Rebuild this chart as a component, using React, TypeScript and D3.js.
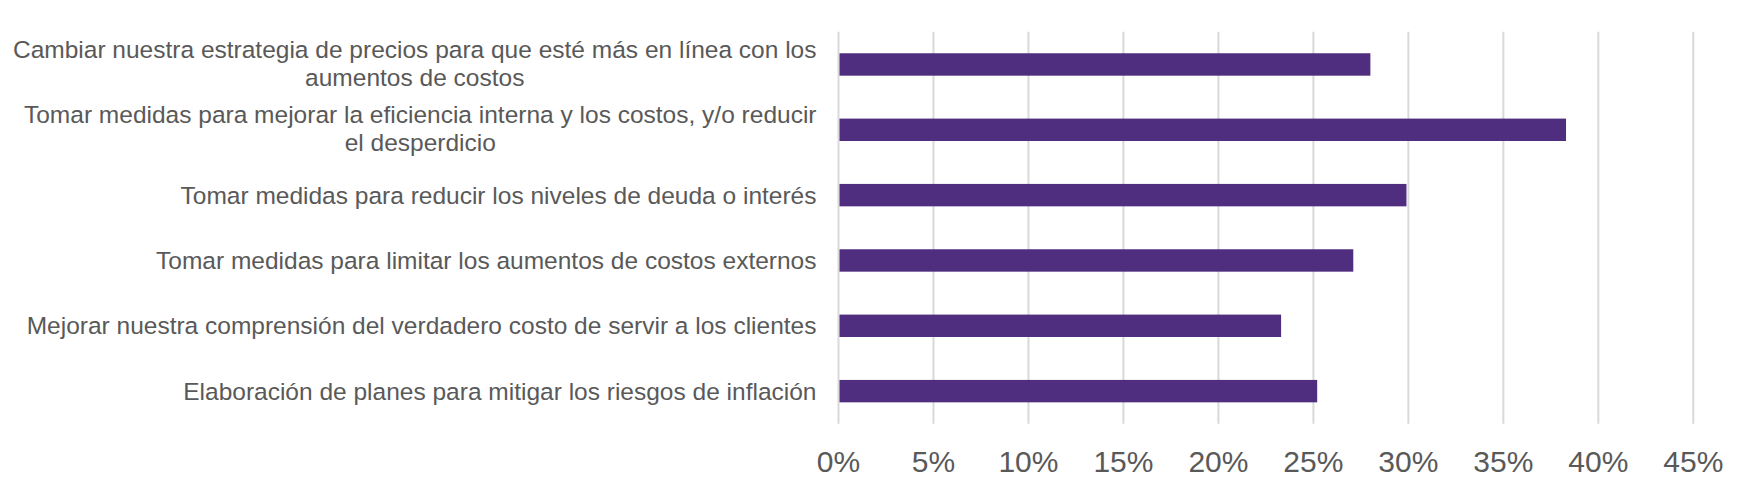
import React, { useEffect, useRef } from 'react';
import * as d3 from 'd3';

// categories, top to bottom (lines split where the original wraps)
const categories: string[][] = [
  ['Cambiar nuestra estrategia de precios para que esté más en línea con los', 'aumentos de costos'],
  ['Tomar medidas para mejorar la eficiencia interna y los costos, y/o reducir', 'el desperdicio'],
  ['Tomar medidas para reducir los niveles de deuda o interés'],
  ['Tomar medidas para limitar los aumentos de costos externos'],
  ['Mejorar nuestra comprensión del verdadero costo de servir a los clientes'],
  ['Elaboración de planes para mitigar los riesgos de inflación'],
];
const values: number[] = [0.280, 0.383, 0.299, 0.271, 0.233, 0.252];
const ticks: number[] = [0, 0.05, 0.1, 0.15, 0.2, 0.25, 0.3, 0.35, 0.4, 0.45];

const width = 1756;
const height = 488;
const margin = { top: 31.8, right: 62.7, bottom: 64.2, left: 838.5 };
const barColor = '#4f2d7f';
const gridColor = '#d9d9d9';
const textColor = '#595959';
const font = '"Liberation Sans", Arial, sans-serif';

const App: React.FC = () => {
  const svgRef = useRef<SVGSVGElement>(null);

  useEffect(() => {
    if (!svgRef.current) return;
    const svg = d3.select(svgRef.current);
    svg.selectAll('*').remove();

    const innerWidth = width - margin.left - margin.right;
    const innerHeight = height - margin.top - margin.bottom;
    const keys = categories.map((c, i) => String(i));

    const x = d3.scaleLinear().domain([0, 0.45]).range([0, innerWidth]);
    const y = d3.scaleBand()
      .domain(keys)
      .range([0, innerHeight])
      .paddingInner(0.657)
      .paddingOuter(0.657 / 2);

    const g = svg.append('g')
      .attr('transform', `translate(${margin.left},${margin.top})`);

    // vertical gridlines
    g.selectAll('.grid')
      .data(ticks)
      .enter()
      .append('line')
      .attr('x1', d => x(d))
      .attr('x2', d => x(d))
      .attr('y1', 0)
      .attr('y2', innerHeight)
      .attr('stroke', gridColor)
      .attr('stroke-width', 2);

    // tick labels
    g.selectAll('.tick-label')
      .data(ticks)
      .enter()
      .append('text')
      .attr('x', d => x(d))
      .attr('y', innerHeight + 48)
      .attr('text-anchor', 'middle')
      .attr('font-family', font)
      .attr('font-size', 30)
      .attr('fill', textColor)
      .text(d => d3.format('.0%')(d));

    // bars
    g.selectAll('.bar')
      .data(values)
      .enter()
      .append('rect')
      .attr('x', x(0) + 1)
      .attr('y', (d, i) => y(String(i)) as number)
      .attr('width', d => x(d) - x(0) - 1)
      .attr('height', y.bandwidth())
      .attr('fill', barColor);

    // category labels: right aligned block, lines centred within it
    const labelRight = -22;
    const lineHeight = 28;
    categories.forEach((lines, i) => {
      const cy = (y(String(i)) as number) + y.bandwidth() / 2;
      const t = g.append('text')
        .attr('font-family', font)
        .attr('font-size', 24.5)
        .attr('fill', textColor);
      const spans = lines.map((line, j) =>
        t.append('tspan')
          .attr('y', cy + 8.7 + (j - (lines.length - 1) / 2) * lineHeight - (lines.length > 1 ? 1.5 : 0))
          .text(line)
      );
      const widths = spans.map(s => (s.node() as SVGTSpanElement).getComputedTextLength());
      const maxW = d3.max(widths) as number;
      spans.forEach(s => {
        s.attr('x', labelRight - maxW / 2).attr('text-anchor', 'middle');
      });
    });
  }, []);

  return (
    <svg
      ref={svgRef}
      width={width}
      height={height}
      style={{ position: 'absolute', left: 0, top: 0, background: '#fff' }}
    ></svg>
  );
};

export default App;
